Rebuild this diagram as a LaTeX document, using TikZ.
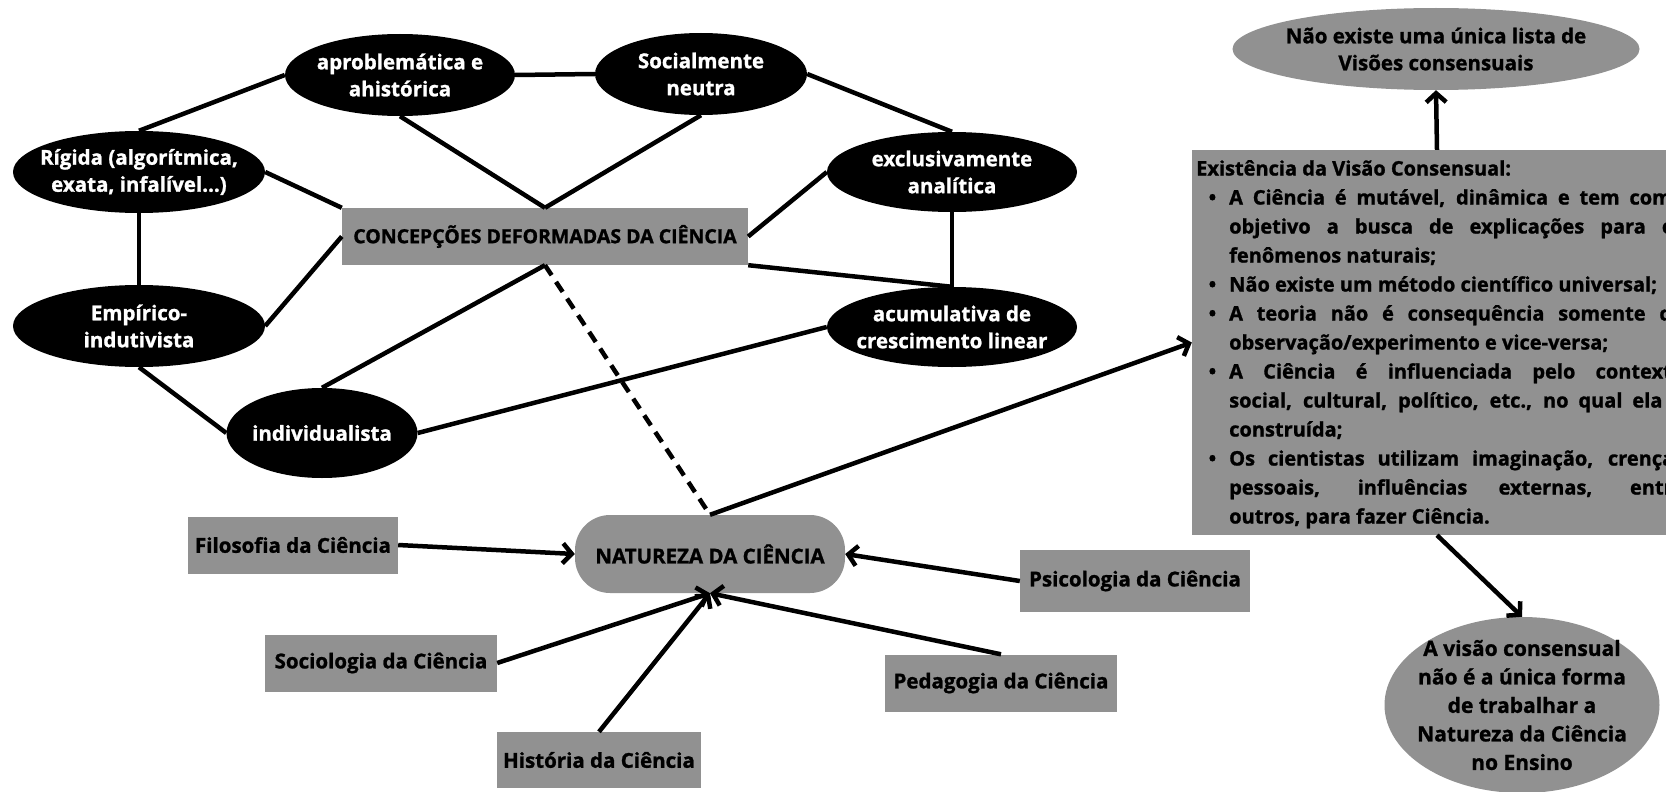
\documentclass[tikz,border=0pt]{standalone}
\usepackage{fontspec}
\setmainfont{Open Sans}[BoldFeatures={FakeBold=1.2}]
\usetikzlibrary{shapes.geometric,arrows.meta,positioning}
\definecolor{cinza}{RGB}{145,145,145}
\newcommand{\marca}{\par\hangindent=33pt\hangafter=0\noindent\llap{\textbullet\hspace{13pt}}}

\begin{document}
\begin{tikzpicture}[x=1pt,y=-1pt,
	every node/.style={font=\fontsize{20.5}{27}\selectfont\bfseries, align=center, inner sep=0pt},
	visao/.style={ellipse, fill=black, text=white, inner sep=-40pt, minimum width=#1, minimum height=82pt},
	caixa/.style={rectangle, fill=cinza, minimum width=#1, minimum height=57pt},
	liga/.style={line width=4.5pt},
	seta/.style={line width=4.5pt, -{Straight Barb[length=9pt,width=20pt]}}]
	\useasboundingbox (0,0) rectangle (1666,792);
	% concepcoes deformadas
	\node[visao=230pt] (aprob) at (400,75) {aproblemática e\\ahistórica};
	\node[visao=212pt] (social) at (701,74) {Socialmente\\neutra};
	\node[visao=252pt] (rigida) at (139,172) {Rígida (algorítmica,\\exata, infalível...)};
	\node[visao=252pt] (empirico) at (139,326) {Empírico-\\indutivista};
	\node[visao=191pt, minimum height=90pt] (indiv) at (322,433) {individualista};
	\node[visao=250pt, minimum height=80pt] (exclus) at (952,172) {exclusivamente\\analítica};
	\node[visao=250pt, minimum height=80pt] (acumul) at (952,327) {acumulativa de\\crescimento linear};
	\node[caixa=406pt, font=\fontsize{19.5}{27}\selectfont\bfseries] (concep) at (545,236.5) {CONCEPÇÕES DEFORMADAS DA CIÊNCIA};
	% natureza da ciencia
	\node[caixa=270pt, minimum height=78pt, rounded corners=35pt] (natureza) at (710,554) {NATUREZA DA CIÊNCIA};
	\node[caixa=210pt] (filosofia) at (293,545) {Filosofia da Ciência};
	\node[caixa=232pt] (sociologia) at (381,663) {Sociologia da Ciência};
	\node[caixa=204pt, minimum height=56pt] (historia) at (599,760) {História da Ciência};
	\node[caixa=232pt] (pedagogia) at (1001,683) {Pedagogia da Ciência};
	\node[caixa=230pt, minimum height=62pt] (psicologia) at (1135,581) {Psicologia da Ciência};
	% visao consensual
	\node[ellipse, fill=cinza, inner sep=-40pt, minimum width=407pt, minimum height=82pt] (lista) at (1436,49) {Não existe uma única lista de\\Visões consensuais};
	\node[caixa=490pt, minimum height=385pt] (consenso) at (1437,342.5) {};
	\node[anchor=north west, text width=488pt, align=justify, font=\fontsize{20}{29}\selectfont\bfseries] (itens) at (1196,160) {%
		\parskip=0pt\noindent Existência da Visão Consensual:
		\marca A Ciência é mutável, dinâmica e tem como\linebreak objetivo a busca de explicações para os\linebreak fenômenos naturais;
		\marca Não existe um método científico universal;
		\marca A teoria não é consequência somente da\linebreak observação/experimento e vice-versa;
		\marca A Ciência é influenciada pelo contexto\linebreak social, cultural, político, etc., no qual ela é\linebreak construída;
		\marca Os cientistas utilizam imaginação, crenças\linebreak pessoais, influências externas, entre\linebreak outros, para fazer Ciência.\par};
	\node[ellipse, fill=cinza, inner sep=-60pt, minimum width=275pt, minimum height=176pt, font=\fontsize{21}{28.5}\selectfont\bfseries] (forma) at (1522,705) {A visão consensual\\não é a única forma\\de trabalhar a\\Natureza da Ciência\\no Ensino};
	% ligacoes
	\draw[liga] (rigida.north) -- (aprob.west);
	\draw[liga] (aprob.east) -- (social.west);
	\draw[liga] (aprob.south) -- (concep.north);
	\draw[liga] (social.south) -- (concep.north);
	\draw[liga] (social.east) -- (exclus.north);
	\draw[liga] (rigida.east) -- (concep.north west);
	\draw[liga] (rigida.south) -- (empirico.north);
	\draw[liga] (empirico.east) -- (concep.west);
	\draw[liga] (empirico.south) -- (indiv.west);
	\draw[liga] (indiv.north) -- (concep.south);
	\draw[liga] (indiv.east) -- (acumul.west);
	\draw[liga] (concep.east) -- (exclus.west);
	\draw[liga] (concep.south east) -- (acumul.north);
	\draw[liga] (exclus.south) -- (acumul.north);
	\draw[liga, dash pattern=on 12pt off 8pt] (concep.south) -- (natureza.north);
	% setas
	\draw[seta] (natureza.north) -- (consenso.west);
	\draw[seta] (consenso.north) -- (lista.south);
	\draw[seta] (consenso.south) -- (forma.north);
	\draw[seta] (filosofia.east) -- (natureza.west);
	\draw[seta] (psicologia.west) -- (natureza.east);
	\draw[seta] (sociologia.east) -- (natureza.south);
	\draw[seta] (historia.north) -- (natureza.south);
	\draw[seta] (pedagogia.north) -- (natureza.south);
\end{tikzpicture}
\end{document}
